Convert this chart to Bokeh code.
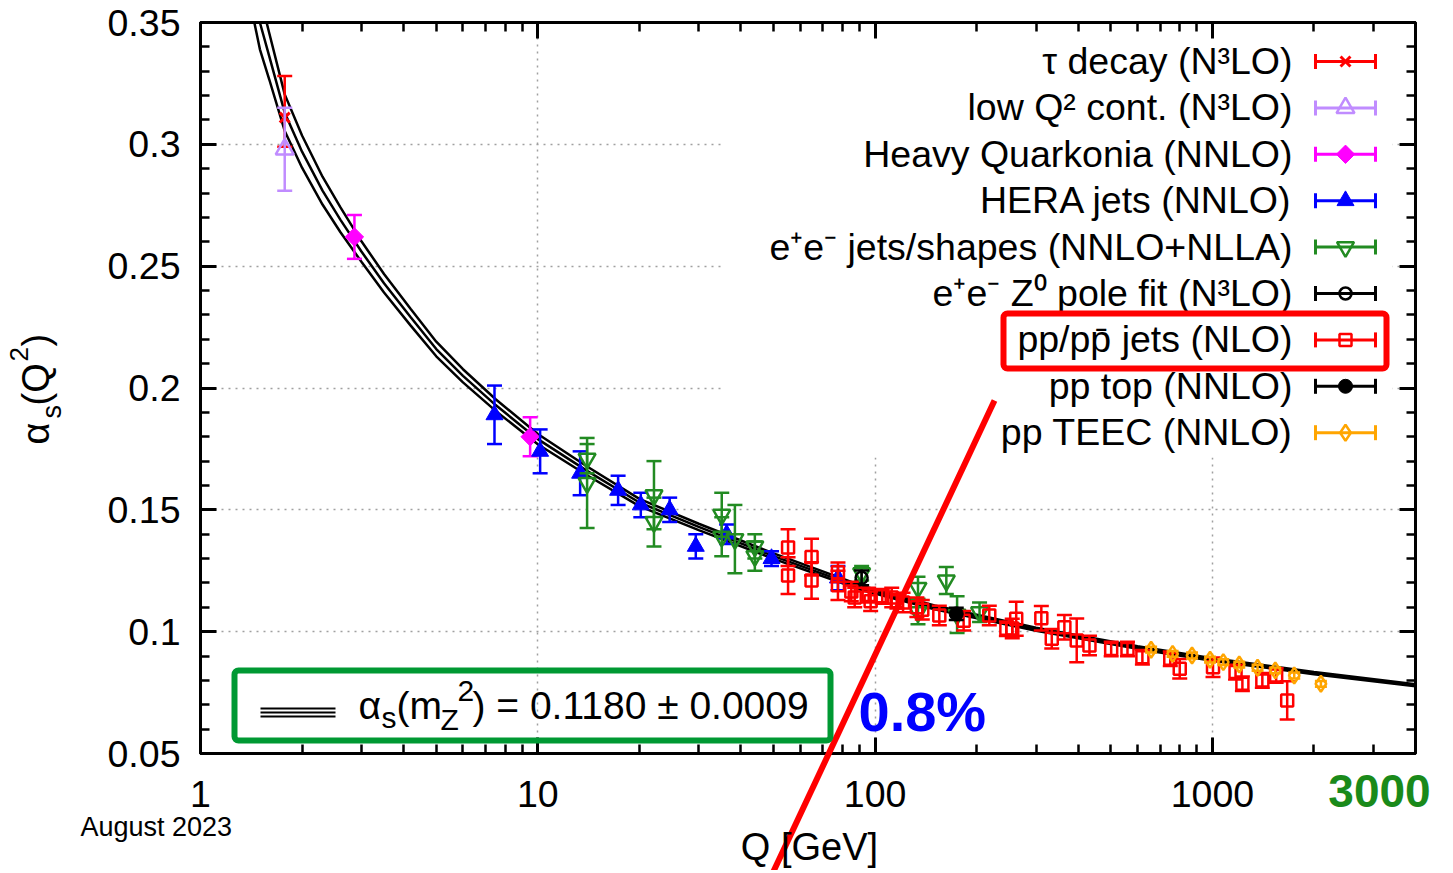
import numpy as np
from bokeh.plotting import figure
from bokeh.models import (Range1d, FixedTicker, LogAxis, LinearAxis, CustomJSTickFormatter,
                          Label, BoxAnnotation, GridBox)
from bokeh.embed import file_html
from bokeh.resources import INLINE

# ------------------------------------------------------------------ data
# running coupling curve (central value and half-width of the band)
curve_q = [1.4, 1.5, 1.6, 1.777, 2.0, 2.3, 2.6, 3.0, 3.5, 4.2, 5.0, 6.0, 7.5, 10, 14, 20, 30, 50,
           91.2, 150, 300, 600, 1000, 2000, 4000]
curve_a = [0.372, 0.350, 0.336, 0.313, 0.297, 0.281, 0.269, 0.256, 0.243, 0.229, 0.216, 0.205,
           0.193, 0.179, 0.166, 0.153, 0.143, 0.131, 0.118, 0.110, 0.101, 0.0935, 0.0886, 0.0830, 0.0780]
curve_band = [0.013, 0.011, 0.0095, 0.0075, 0.0066, 0.0057, 0.0051, 0.0042, 0.0038, 0.0034, 0.0030,
              0.0027, 0.0024, 0.0021, 0.0018, 0.0015, 0.0013, 0.0011, 0.0009, 0.0008, 0.00066,
              0.00057, 0.00051, 0.00045, 0.00039]

tau_q = [1.777]
tau_a = [0.311]
tau_up = [0.017]
tau_dn = [0.012]

lowq_q = [1.777]
lowq_a = [0.298]
lowq_err = [0.017]

hq_q = [2.86, 9.49]
hq_a = [0.262, 0.180]
hq_err = [0.009, 0.008]

hera_q = [7.44, 10.16, 13.35, 17.3, 20.2, 24.6, 29.4, 36.3, 49.3, 77.6]
hera_a = [0.189, 0.174, 0.165, 0.158, 0.152, 0.150, 0.135, 0.140, 0.130, 0.122]
hera_err = [0.012, 0.009, 0.009, 0.006, 0.005, 0.005, 0.005, 0.004, 0.003, 0.005]

ee_q = [14.0, 14.0, 22.1, 22.1, 35.1, 35.1, 38.4, 44.0, 44.0, 91.2, 134, 134, 162.6, 175, 204]
ee_a = [0.171, 0.161, 0.156, 0.145, 0.148, 0.139, 0.138, 0.135, 0.131, 0.124, 0.118, 0.108,
        0.121, 0.107, 0.108]
ee_err = [0.006, 0.0185, 0.014, 0.010, 0.009, 0.008, 0.014, 0.005, 0.006, 0.003, 0.0045, 0.005,
          0.0055, 0.0075, 0.004]

zpole_q = [91.2]
zpole_a = [0.1221]
zpole_err = [0.003]

jets_q = [55.2, 55.2, 64.8, 64.8, 77.6, 77.6, 85, 87, 95.7, 97, 105, 112, 116, 121, 133, 138, 155,
          183, 218, 245, 255, 262, 311, 334, 364, 396, 432, 501, 560, 620, 750, 800, 1004, 1171,
          1227, 1406, 1545, 1666]
jets_a = [0.1345, 0.123, 0.1306, 0.121, 0.1244, 0.119, 0.1165, 0.114, 0.115, 0.1125, 0.1145, 0.114,
          0.1125, 0.112, 0.110, 0.109, 0.1066, 0.1045, 0.1066, 0.1012, 0.1013, 0.1053, 0.1055,
          0.0971, 0.1018, 0.0964, 0.0943, 0.0929, 0.0929, 0.0895, 0.0889, 0.0848, 0.0854, 0.0834,
          0.0786, 0.0800, 0.0820, 0.0718]
jets_err = [0.0075, 0.0075, 0.0075, 0.0075, 0.004, 0.006, 0.004, 0.004, 0.003, 0.004, 0.003, 0.004,
            0.003, 0.004, 0.004, 0.004, 0.004, 0.004, 0.004, 0.003, 0.004, 0.007, 0.005, 0.004,
            0.005, 0.009, 0.004, 0.003, 0.003, 0.003, 0.003, 0.004, 0.004, 0.003, 0.003, 0.003,
            0.003, 0.0078]

top_q = [174]
top_a = [0.1073]
top_err = [0.0025]

teec_q = [658, 762, 870, 984, 1077, 1201, 1361, 1536, 1748, 2097]
teec_a = [0.0926, 0.0909, 0.0902, 0.0885, 0.0875, 0.0865, 0.0852, 0.0841, 0.0820, 0.0786]
teec_err = [0.0012, 0.0012, 0.0012, 0.0012, 0.0012, 0.0012, 0.0012, 0.0012, 0.0012, 0.0012]

legend_labels = ["τ decay (N³LO)", "low Q² cont. (N³LO)", "Heavy Quarkonia (NNLO)",
                 "HERA jets (NNLO)", "e⁺e⁻ jets/shapes (NNLO+NLLA)", "e⁺e⁻ Z⁰ pole fit (N³LO)",
                 "pp/pp\u0304 jets (NLO)", "pp top (NNLO)", "pp TEEC (NNLO)"]

x_major = [1, 10, 100, 1000]
y_major = [0.05, 0.10, 0.15, 0.20, 0.25, 0.30, 0.35]

# ------------------------------------------------------------------ styling
RED, LAV, MAG, BLUE, GRN, ORG = "#ff0000", "#c08cff", "#ff00ff", "#0000ff", "#228b22", "#ffa500"
FONT = "Liberation Sans"
XMIN, XMAX, YMIN, YMAX = 1.0, 4000.0, 0.05, 0.35
W, H = 1450, 870
# plot frame edges in page pixels
FX0, FX1, FY0, FY1 = 200, 1415, 22, 753


def X(px):
    return XMIN * (XMAX / XMIN) ** ((px - FX0) / (FX1 - FX0))


def Y(py):
    return YMIN + (FY1 - py) / (FY1 - FY0) * (YMAX - YMIN)


p = figure(width=W, height=H, x_axis_type="log",
           x_range=Range1d(XMIN, XMAX), y_range=Range1d(YMIN, YMAX),
           output_backend="svg", toolbar_location=None, tools="",
           min_border_left=FX0, min_border_right=W - FX1, min_border_top=FY0,
           min_border_bottom=H - FY1)
p.frame_align = False
p.background_fill_color = "white"
p.border_fill_color = "white"
p.outline_line_color = "black"
p.outline_line_width = 3

x_minor = [m * 10 ** e for e in range(0, 4) for m in range(2, 10) if m * 10 ** e < XMAX]
y_minor = [round(0.05 + 0.01 * i, 2) for i in range(31) if i % 5]


def style_axis(ax, labels=True, standoff=20):
    ax.axis_line_width = 3
    ax.axis_line_color = "black"
    ax.major_tick_in = 16
    ax.major_tick_out = 0
    ax.minor_tick_in = 9
    ax.minor_tick_out = 0
    ax.major_tick_line_width = 3
    ax.minor_tick_line_width = 2.5
    ax.major_label_text_font = FONT
    ax.major_label_text_font_size = "37.5px"
    ax.major_label_text_color = "black"
    ax.major_label_standoff = standoff
    if not labels:
        ax.major_label_text_font_size = "0px"
        ax.major_label_standoff = 0
        ax.formatter = CustomJSTickFormatter(code="return '';")


p.xaxis.ticker = FixedTicker(ticks=x_major, minor_ticks=x_minor)
p.yaxis.ticker = FixedTicker(ticks=y_major, minor_ticks=y_minor)
p.xaxis.formatter = CustomJSTickFormatter(code="return String(Math.round(tick));")
p.yaxis.formatter = CustomJSTickFormatter(code="return String(Math.round(tick*100)/100);")
style_axis(p.xaxis[0], standoff=27)
style_axis(p.yaxis[0], standoff=20)

top_ax = LogAxis(ticker=FixedTicker(ticks=x_major, minor_ticks=x_minor))
style_axis(top_ax, labels=False)
p.add_layout(top_ax, "above")
right_ax = LinearAxis(ticker=FixedTicker(ticks=y_major, minor_ticks=y_minor))
style_axis(right_ax, labels=False)
p.add_layout(right_ax, "right")

p.xgrid.ticker = FixedTicker(ticks=x_major[1:])
p.ygrid.ticker = FixedTicker(ticks=y_major[1:-1])
for g in (p.xgrid[0], p.ygrid[0]):
    g.grid_line_color = "#a0a0a0"
    g.grid_line_dash = "2 5"
    g.grid_line_width = 1.5

# opaque key area (hides the grid behind the key)
p.quad(left=[X(722)], right=[X(1392)], top=[Y(FY0)], bottom=[Y(457)],
       fill_color="white", line_color=None)

# ------------------------------------------------------------------ curve
ca = np.array(curve_a)
cb = np.array(curve_band)
for arr in (ca + cb, ca, ca - cb):
    p.line(curve_q, arr, line_color="black", line_width=2.5)


# ------------------------------------------------------------------ data points
def errbars(fig, q, a, up, dn, color, cap=15, lw=2.5):
    q = np.asarray(q, float)
    a = np.asarray(a, float)
    up = np.asarray(up, float)
    dn = np.asarray(dn, float)
    fig.segment(q, a - dn, q, a + up, line_color=color, line_width=lw)
    fig.scatter(np.concatenate([q, q]), np.concatenate([a - dn, a + up]), marker="dash",
                size=cap, line_color=color, line_width=lw)


MK = [dict(marker="x", line_color=RED, fill_color=None, size=14, line_width=3),
      dict(marker="triangle", line_color=LAV, fill_color=None, size=18, line_width=2.5),
      dict(marker="square", angle=np.pi / 4, line_color=MAG, fill_color=MAG, size=13),
      dict(marker="triangle", line_color=BLUE, fill_color=BLUE, size=17),
      dict(marker="inverted_triangle", line_color=GRN, fill_color=None, size=17, line_width=2.5),
      dict(marker="circle", line_color="black", fill_color=None, size=12, line_width=2.5),
      dict(marker="square", line_color=RED, fill_color=None, size=12, line_width=2.5),
      dict(marker="circle", line_color="black", fill_color="black", size=14),
      dict(marker="diamond", line_color=ORG, fill_color=None, size=16, line_width=2.5)]

series = [(tau_q, tau_a, tau_up, tau_dn),
          (lowq_q, lowq_a, lowq_err, lowq_err),
          (hq_q, hq_a, hq_err, hq_err),
          (hera_q, hera_a, hera_err, hera_err),
          (ee_q, ee_a, ee_err, ee_err),
          (zpole_q, zpole_a, zpole_err, zpole_err),
          (jets_q, jets_a, jets_err, jets_err),
          (top_q, top_a, top_err, top_err),
          (teec_q, teec_a, teec_err, teec_err)]
for (q, a, up, dn), mk in zip(series, MK):
    errbars(p, q, a, up, dn, mk["line_color"], cap=12 if mk["line_color"] == ORG else 15)
    p.scatter(q, a, **mk)

# ------------------------------------------------------------------ overlay (page-pixel layer)
ov = figure(width=W, height=H, x_range=Range1d(0, W), y_range=Range1d(H, 0),
            output_backend="svg", toolbar_location=None, tools="",
            x_axis_location=None, y_axis_location=None, min_border=0,
            min_border_left=0, min_border_right=0, min_border_top=0, min_border_bottom=0)
ov.frame_align = False
ov.grid.visible = False
ov.outline_line_color = None
ov.background_fill_alpha = 0
ov.border_fill_alpha = 0

SHIFT = 0.375  # baseline offset of Bokeh label anchors, in em


def txt(x, baseline, text, size, align="left", color="black", bold=False, angle=0.0):
    if angle:
        lx, ly = x - SHIFT * size, baseline
    else:
        lx, ly = x, baseline - SHIFT * size
    ov.add_layout(Label(x=lx, y=ly, text=text, text_align=align, text_baseline="alphabetic",
                        text_font=FONT, text_font_size=f"{size}px", text_color=color,
                        text_font_style="bold" if bold else "normal", angle=angle))


# key: right-aligned text, error-bar sample on the right
for i, (lab, mk) in enumerate(zip(legend_labels, MK)):
    row = 61.0 + i * 46.4
    col = mk["line_color"]
    txt(1292, row + 13.5, lab, 37.5, align="right")
    ov.segment([1315], [row], [1375], [row], line_color=col, line_width=3)
    ov.segment([1315, 1375], [row - 7.5] * 2, [1315, 1375], [row + 7.5] * 2,
               line_color=col, line_width=3)
    ov.scatter([1345], [row], **mk)

ov.add_layout(BoxAnnotation(left=1003, right=1386, top=313, bottom=368,
                            fill_color=None, fill_alpha=0, line_color=RED, line_alpha=1,
                            line_width=6, border_radius=4))

# fit-result box
ov.add_layout(BoxAnnotation(left=234, right=830, top=670, bottom=740,
                            fill_color=None, fill_alpha=0, line_color="#009933", line_alpha=1,
                            line_width=6, border_radius=4))
for yy in (708, 712, 716):
    ov.segment([260], [yy], [335], [yy], line_color="black", line_width=2.2)
for t, px, py, fs in [("α", 358, 720, 39), ("s", 381, 728, 30), ("(m", 396, 720, 39),
                      ("Z", 440, 730, 30), ("2", 457, 702, 30),
                      (") = 0.1180 ± 0.0009", 472, 720, 39)]:
    txt(px, py, t, fs)

# y-axis title, rotated
for t, px, py, fs in [("α", 50, 444, 38), ("s", 62, 418, 27), ("(Q", 50, 405, 38),
                      ("2", 28, 361, 26), (")", 50, 346, 38)]:
    txt(px, py, t, fs, angle=np.pi / 2)

txt(809, 861, "Q [GeV]", 38, align="center")
txt(80, 837, "August 2023", 27)
txt(1379, 808, "3000", 46, align="center", color="#1a8a1a", bold=True)
txt(858, 732, "0.8%", 56, color=BLUE, bold=True)

ov.line([772, 994], [873, 400], line_color=RED, line_width=6)

layout = GridBox(children=[(p, 0, 0), (ov, 0, 0)])
open("out.html", "w").write(file_html(layout, INLINE))
